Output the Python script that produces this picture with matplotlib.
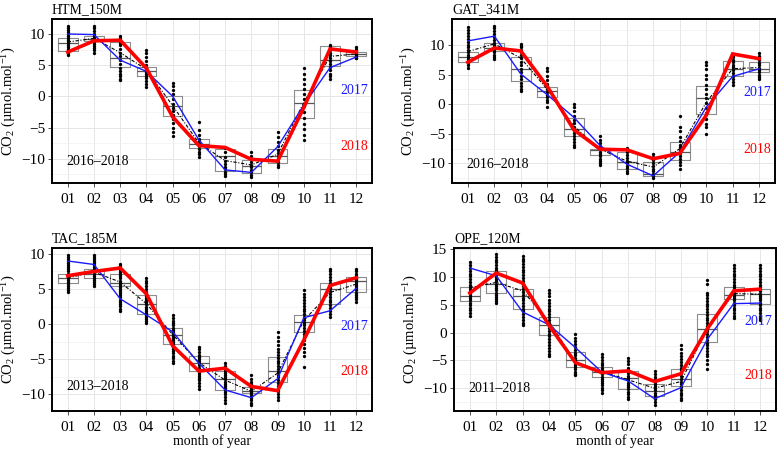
import matplotlib
matplotlib.use("Agg")
import matplotlib.pyplot as plt
from matplotlib.ticker import MultipleLocator

plt.rcParams['font.family'] = ['Liberation Serif', 'DejaVu Serif']
plt.rcParams['mathtext.fontset'] = 'custom'
plt.rcParams['mathtext.rm'] = 'Liberation Serif'
plt.rcParams['mathtext.it'] = 'Liberation Serif:italic'
plt.rcParams['axes.unicode_minus'] = True

months = ["01", "02", "03", "04", "05", "06", "07", "08", "09", "10", "11", "12"]

# ---------------- HTM_150M ----------------
htm_2017 = [10.0, 9.9, 5.8, 4.0, 0.0, -7.0, -11.8, -12.2, -8.1, -1.4, 4.6, 6.3]
htm_2018 = [7.1, 8.9, 9.0, 4.5, -3.3, -7.9, -8.2, -10.1, -10.4, -1.8, 7.6, 7.1]
htm_mean = [8.7, 9.3, 7.0, 4.3, -1.5, -7.5, -10.3, -11.0, -9.3, -1.0, 6.4, 6.8]
htm_q1 = [7.2, 8.8, 4.7, 3.3, -3.2, -8.3, -11.9, -12.3, -10.7, -3.4, 4.8, 6.5]
htm_med = [8.5, 9.2, 6.1, 4.1, -1.6, -7.6, -9.5, -11.1, -9.5, -1.1, 5.9, 6.8]
htm_q3 = [9.4, 9.6, 8.7, 4.7, 0.1, -6.9, -8.4, -10.2, -8.4, 1.0, 8.0, 7.1]
htm_dots = [
    [11.2, 10.9, 10.6, 10.3, 10.0, 9.7, 9.4, 9.1, 8.8, 8.5, 8.2, 7.9, 7.6, 7.3, 7.0, 6.7],
    [11.2, 10.9, 10.5, 10.0, 9.6, 9.3, 9.0, 8.7, 8.4, 8.1, 7.8, 7.4, 7.0],
    [9.6, 9.3, 9.0, 8.6, 8.2, 7.6, 7.0, 6.4, 5.8, 5.2, 4.6, 4.0, 3.6, 3.2, 2.8, 2.6],
    [7.4, 6.9, 6.3, 5.6, 5.0, 4.6, 4.2, 3.9, 3.6, 3.3, 3.0, 2.5, 2.0, 1.5],
    [2.1, 1.6, 1.0, 0.3, -0.5, -1.2, -1.8, -2.4, -3.0, -3.6, -4.3, -5.0, -5.7, -6.3],
    [-4.1, -5.4, -6.2, -6.8, -7.2, -7.6, -8.0, -8.4, -8.9, -9.3, -9.7],
    [-8.3, -9.0, -9.7, -10.4, -10.9, -11.3, -11.7, -12.1, -12.5, -12.8],
    [-9.0, -9.5, -10.0, -10.5, -11.0, -11.4, -11.8, -12.2, -12.6, -12.9],
    [-5.7, -6.5, -7.3, -8.0, -8.6, -9.1, -9.6, -10.1, -10.6, -11.0, -11.4],
    [4.6, 3.6, 2.8, 2.0, 1.2, 0.4, -0.5, -1.5, -2.5, -3.5, -4.5, -5.3, -6.2, -7.0],
    [8.3, 7.9, 7.5, 7.0, 6.6, 6.2, 5.7, 5.2, 4.7, 4.2, 3.6, 3.2, 2.8],
    [7.9, 7.6, 7.3, 7.0, 6.8, 6.6, 6.4, 6.2, 6.1],
]

# ---------------- GAT_341M ----------------
gat_2017 = [10.7, 11.5, 5.1, 1.6, -2.2, -7.0, -10.1, -12.1, -8.1, -0.5, 4.7, 6.0]
gat_2018 = [7.1, 9.5, 9.0, 3.0, -4.3, -7.6, -7.7, -9.2, -8.3, -1.9, 8.5, 7.7]
gat_mean = [8.9, 10.2, 7.8, 2.5, -3.7, -7.6, -9.6, -10.6, -7.5, 0.3, 6.0, 6.2]
gat_q1 = [7.2, 9.0, 4.0, 1.2, -5.3, -8.5, -11.0, -12.1, -9.4, -1.6, 4.7, 5.5]
gat_med = [7.9, 9.5, 6.0, 2.3, -4.2, -7.7, -9.8, -11.7, -8.1, 1.1, 6.0, 6.0]
gat_q3 = [8.8, 10.3, 7.9, 2.9, -2.3, -7.6, -8.0, -9.8, -6.3, 3.0, 7.3, 7.2]
gat_dots = [
    [13.0, 12.6, 12.1, 11.5, 11.0, 10.5, 10.0, 9.6, 9.2, 8.8, 8.4, 8.0, 7.6, 7.2, 6.9, 6.6, 6.2],
    [13.2, 12.8, 12.3, 11.8, 11.3, 10.8, 10.4, 10.0, 9.6, 9.2, 8.8, 8.4, 8.0, 7.6],
    [10.2, 9.9, 9.6, 9.2, 8.8, 8.3, 7.8, 7.2, 6.6, 6.0, 5.4, 4.8, 4.2, 3.6, 3.0, 2.6, 2.3],
    [6.2, 5.6, 4.8, 4.1, 3.5, 3.0, 2.5, 2.0, 1.6, 1.2, 0.8, 0.3, -0.4],
    [0.1, -0.5, -1.2, -1.9, -2.6, -3.2, -3.8, -4.3, -4.8, -5.3, -5.8, -6.4, -6.9, -7.3],
    [-5.4, -6.0, -6.6, -7.1, -7.6, -8.0, -8.4, -8.8, -9.2, -9.6, -10.0, -10.3],
    [-7.4, -8.0, -8.6, -9.1, -9.6, -10.0, -10.4, -10.8, -11.2, -11.6],
    [-8.4, -8.9, -9.4, -9.9, -10.4, -10.9, -11.3, -11.7, -12.1, -12.4],
    [-2.0, -3.8, -4.5, -5.5, -6.2, -6.8, -7.3, -7.8, -8.3, -8.8, -9.3, -9.8, -10.3, -10.9],
    [7.2, 6.6, 5.9, 5.0, 4.2, 3.3, 2.6, 1.8, 1.0, 0.2, -0.6, -1.5, -2.5, -3.4, -3.8, -5.1],
    [8.3, 7.9, 7.5, 7.1, 6.7, 6.3, 5.8, 5.3, 4.8, 4.3, 3.8, 3.3],
    [8.6, 8.2, 7.8, 7.4, 7.0, 6.6, 6.2, 5.8, 5.4, 5.0, 4.6, 4.2],
]

# ---------------- TAC_185M ----------------
tac_2017 = [9.0, 8.5, 3.6, 1.3, -1.1, -5.6, -9.4, -10.5, -7.8, 0.9, 1.9, 5.1]
tac_2018 = [6.9, 7.5, 8.0, 4.3, -3.1, -6.7, -6.3, -8.9, -9.5, -2.3, 5.5, 6.6]
tac_mean = [6.6, 7.4, 6.0, 2.9, -1.5, -5.5, -8.0, -9.6, -7.0, 0.5, 4.5, 5.7]
tac_q1 = [5.8, 6.6, 5.4, 1.5, -2.9, -6.7, -9.4, -9.9, -8.3, -1.1, 2.8, 4.6]
tac_med = [6.6, 7.2, 5.9, 2.8, -1.6, -5.5, -7.9, -9.5, -6.7, 0.3, 5.0, 6.1]
tac_q3 = [7.1, 7.8, 7.1, 4.2, -0.6, -4.6, -6.7, -9.0, -4.7, 1.3, 5.9, 6.7]
tac_dots = [
    [9.9, 9.6, 9.3, 9.0, 8.7, 8.4, 8.1, 7.8, 7.5, 7.2, 6.9, 6.6, 6.3, 6.0, 5.7, 5.4, 5.1, 4.8, 4.6],
    [9.9, 9.6, 9.3, 9.0, 8.7, 8.4, 8.1, 7.8, 7.5, 7.2, 6.9, 6.6, 6.3, 6.0, 5.7, 5.4],
    [8.6, 8.3, 8.0, 7.7, 7.4, 7.1, 6.8, 6.5, 6.2, 5.9, 5.6, 5.3, 5.0, 4.7, 4.4, 4.1, 3.8, 3.5,
     3.2, 2.9, 2.6, 2.2, 1.8],
    [6.6, 6.2, 5.8, 5.4, 5.0, 4.6, 4.3, 4.0, 3.7, 3.4, 3.1, 2.8, 2.5, 2.2, 1.9, 1.6, 1.3, 1.0,
     0.7, 0.4, 0.2],
    [1.3, 0.9, 0.5, 0.1, -0.2, -0.5, -0.8, -1.1, -1.4, -1.7, -2.0, -2.3, -2.6, -2.9, -3.2, -3.5,
     -3.8, -4.1, -4.5, -4.9, -5.3, -5.6],
    [-3.2, -3.6, -4.0, -4.4, -4.7, -5.0, -5.3, -5.6, -5.9, -6.2, -6.5, -6.8, -7.1, -7.4, -7.7,
     -8.0, -8.4, -8.8, -9.2],
    [-5.6, -6.0, -6.4, -6.7, -7.0, -7.3, -7.6, -7.9, -8.2, -8.5, -8.8, -9.1, -9.4, -9.7, -10.0,
     -10.4, -10.8, -11.2],
    [-7.3, -7.8, -8.2, -8.5, -8.8, -9.1, -9.4, -9.7, -10.0, -10.3, -10.6, -10.9, -11.2, -11.6],
    [-1.2, -1.8, -2.4, -3.0, -3.5, -4.0, -4.4, -4.8, -5.2, -5.6, -6.0, -6.4, -6.8, -7.2, -7.6,
     -8.0, -8.4, -8.8, -9.2, -9.6, -10.0, -10.4, -10.8],
    [4.8, 4.3, 3.8, 3.4, 3.0, 2.6, 2.2, 1.8, 1.4, 1.0, 0.6, 0.2, -0.2, -0.6, -1.0, -1.4, -1.8,
     -2.3, -2.8, -3.4, -4.0, -4.6, -6.1],
    [7.9, 7.5, 7.1, 6.7, 6.3, 5.9, 5.5, 5.1, 4.7, 4.3, 3.9, 3.5, 3.1, 2.7, 2.3, 1.9, 1.5, 1.0],
    [7.8, 7.5, 7.2, 6.9, 6.6, 6.3, 6.0, 5.7, 5.4, 5.1, 4.8, 4.5, 4.2, 3.9, 3.6, 3.2],
]

# ---------------- OPE_120M ----------------
ope_2017 = [11.6, 10.2, 3.7, 1.4, -2.7, -7.1, -8.7, -11.9, -9.9, -1.2, 5.2, 5.3]
ope_2018 = [7.1, 10.7, 8.9, 1.3, -5.4, -7.2, -6.9, -8.8, -7.4, 0.7, 7.5, 7.8]
ope_mean = [8.1, 9.0, 7.5, 2.0, -5.3, -7.0, -8.5, -10.0, -8.8, 0.8, 7.0, 6.9]
ope_q1 = [5.7, 7.1, 4.3, -0.5, -6.2, -8.0, -10.2, -11.4, -9.6, -1.7, 6.1, 5.2]
ope_med = [6.6, 8.7, 6.5, 1.4, -5.0, -7.1, -8.1, -10.5, -8.4, 0.6, 6.8, 6.9]
ope_q3 = [8.2, 11.1, 7.9, 2.8, -3.5, -6.2, -6.9, -9.2, -6.6, 3.3, 8.1, 7.9]
ope_dots = [
    [12.6, 12.1, 11.6, 11.1, 10.6, 10.1, 9.6, 9.1, 8.6, 8.2, 7.8, 7.4, 7.0, 6.6, 6.2, 5.8, 5.4,
     5.0, 4.5, 4.0, 3.5, 2.9],
    [14.1, 13.6, 13.1, 12.6, 12.1, 11.6, 11.2, 10.8, 10.4, 10.0, 9.6, 9.2, 8.8, 8.4, 8.0, 7.6,
     7.2, 6.8, 6.4, 6.0, 5.6, 5.3],
    [13.8, 13.3, 12.8, 12.3, 11.8, 11.3, 10.8, 10.3, 9.8, 9.3, 8.8, 8.3, 7.8, 7.3, 6.8, 6.3, 5.8,
     5.3, 4.8, 4.3, 3.8, 3.3, 2.8, 2.3, 1.8, 1.3],
    [7.7, 7.1, 6.5, 5.9, 5.3, 4.8, 4.3, 3.8, 3.3, 2.8, 2.3, 1.8, 1.3, 0.8, 0.3, -0.2, -0.7, -1.2,
     -1.7, -2.2, -2.7, -3.3, -3.8, -4.3],
    [-0.3, -0.9, -1.5, -2.1, -2.6, -3.1, -3.6, -4.1, -4.6, -5.0, -5.4, -5.8, -6.2, -6.6, -7.0,
     -7.4, -7.7],
    [-3.9, -4.4, -4.9, -5.4, -5.9, -6.3, -6.7, -7.1, -7.5, -7.9, -8.3, -8.7, -9.1, -9.5, -9.9,
     -10.3, -10.8],
    [-4.5, -5.1, -5.7, -6.3, -6.8, -7.3, -7.8, -8.2, -8.6, -9.0, -9.4, -9.8, -10.2, -10.6, -11.0,
     -11.5, -12.0],
    [-6.9, -7.4, -7.9, -8.4, -8.8, -9.2, -9.6, -10.0, -10.4, -10.8, -11.2, -11.6, -12.0, -12.5,
     -13.0],
    [-2.3, -3.0, -3.7, -4.3, -4.8, -5.3, -5.8, -6.3, -6.8, -7.3, -7.8, -8.3, -8.8, -9.3, -9.8,
     -10.3, -10.8, -11.3, -11.8, -12.2],
    [9.5, 8.8, 7.2, 6.7, 6.2, 5.7, 5.2, 4.7, 4.2, 3.7, 3.2, 2.7, 2.2, 1.7, 1.2, 0.7, 0.2, -0.3,
     -0.8, -1.3, -1.8, -2.3, -2.8, -3.3, -3.8, -4.3, -5.0, -5.7, -6.6],
    [12.1, 11.6, 11.1, 10.6, 10.1, 9.6, 9.1, 8.6, 8.2, 7.8, 7.4, 7.0, 6.6, 6.2, 5.8, 5.4, 5.0,
     4.5, 4.0, 3.5, 3.0, 2.7],
    [12.1, 11.6, 11.1, 10.6, 10.1, 9.6, 9.1, 8.6, 8.2, 7.8, 7.4, 7.0, 6.6, 6.2, 5.8, 5.4, 5.0,
     4.5, 4.0, 3.5, 3.0, 2.6, 2.3],
]

stations = ["HTM_150M", "GAT_341M", "TAC_185M", "OPE_120M"]
periods = ["2016\u20132018", "2016\u20132018", "2013\u20132018", "2011\u20132018"]

W, H = 777, 450
fig = plt.figure(figsize=(W / 100, H / 100), dpi=100)


def add_ax(l, r, t, b):
    return fig.add_axes([l / W, 1 - b / H, (r - l) / W, (b - t) / H])


panels = [
    dict(ax=add_ax(52, 372, 19, 183), name=stations[0], period=periods[0],
         y17=htm_2017, y18=htm_2018, mean=htm_mean, q1=htm_q1, med=htm_med, q3=htm_q3,
         dots=htm_dots, ylim=(-13.9, 12.4), yt=[-10, -5, 0, 5, 10],
         t17=1.0, t18=-8.0, tp=-10.4, xlab=False),
    dict(ax=add_ax(452, 775, 19, 183), name=stations[1], period=periods[1],
         y17=gat_2017, y18=gat_2018, mean=gat_mean, q1=gat_q1, med=gat_med, q3=gat_q3,
         dots=gat_dots, ylim=(-13.3, 14.4), yt=[-10, -5, 0, 5, 10],
         t17=2.0, t18=-7.7, tp=-10.1, xlab=False),
    dict(ax=add_ax(52, 372, 248, 411), name=stations[2], period=periods[2],
         y17=tac_2017, y18=tac_2018, mean=tac_mean, q1=tac_q1, med=tac_med, q3=tac_q3,
         dots=tac_dots, ylim=(-12.4, 10.85), yt=[-10, -5, 0, 5, 10],
         t17=-0.3, t18=-6.8, tp=-8.9, xlab=True),
    dict(ax=add_ax(454, 776, 248, 411), name=stations[3], period=periods[3],
         y17=ope_2017, y18=ope_2018, mean=ope_mean, q1=ope_q1, med=ope_med, q3=ope_q3,
         dots=ope_dots, ylim=(-14.1, 15.2), yt=[-10, -5, 0, 5, 10, 15],
         t17=2.0, t18=-7.8, tp=-10.1, xlab=True),
]

x = list(range(1, 13))
FS_TICK = 11
FS_TXT = 10
FS_LAB = 10.5

for p in panels:
    ax = p["ax"]
    ax.set_xlim(0.4, 12.6)
    ax.set_ylim(*p["ylim"])
    ax.set_xticks(x)
    ax.set_xticklabels(months)
    ax.set_yticks(p["yt"])
    ax.yaxis.set_minor_locator(MultipleLocator(2.5))
    ax.tick_params(axis='both', which='major', labelsize=FS_TICK, length=3, width=0.6,
                   color='#333333')
    ax.tick_params(axis='x', which='major', pad=4)
    ax.tick_params(axis='y', which='major', pad=2)
    ax.tick_params(axis='y', which='minor', length=0)
    ax.grid(True, which='major', color='#e6e6e6', lw=0.7)
    ax.grid(True, which='minor', axis='y', color='#f0f0f0', lw=0.5)
    ax.set_axisbelow(True)
    for s in ax.spines.values():
        s.set_linewidth(1.4)
        s.set_color('black')

    stats = []
    for i in range(12):
        stats.append(dict(med=p["med"][i], q1=p["q1"][i], q3=p["q3"][i],
                          whislo=p["q1"][i], whishi=p["q3"][i], fliers=[]))
    ax.bxp(stats, positions=x, widths=0.75, showcaps=False, showfliers=False,
           patch_artist=False, manage_ticks=False,
           boxprops=dict(color='#8c8c8c', lw=0.8),
           medianprops=dict(color='#555555', lw=0.9),
           whiskerprops=dict(color='#8c8c8c', lw=0.0))

    for i, vals in enumerate(p["dots"]):
        ax.plot([x[i]] * len(vals), vals, 'o', color='black', ms=2.4, mew=0, zorder=3)

    ax.plot(x, p["mean"], color='black', lw=0.8, ls=(0, (3, 1.5, 1, 1.5)), zorder=4)
    ax.plot(x, p["y17"], color='#1a1aff', lw=1.0, zorder=5)
    ax.plot(x, p["y18"], color='#ff0000', lw=2.6, zorder=6, solid_joinstyle='miter')

    ax.text(12.45, p["t17"], "2017", color='#1a1aff', fontsize=FS_TXT, ha='right', va='center')
    ax.text(12.45, p["t18"], "2018", color='#ff0000', fontsize=FS_TXT, ha='right', va='center')
    ax.text(0.95, p["tp"], p["period"], color='black', fontsize=FS_TXT, ha='left', va='center')

    ax.set_ylabel("CO$_2$ (\u00b5mol.mol$^{-1}$)", fontsize=FS_LAB, labelpad=2)
    ax.set_title(p["name"], loc='left', fontsize=10, pad=4)
    if p["xlab"]:
        ax.set_xlabel("month of year", fontsize=10, labelpad=0)

fig.savefig("out.png", dpi=100)
